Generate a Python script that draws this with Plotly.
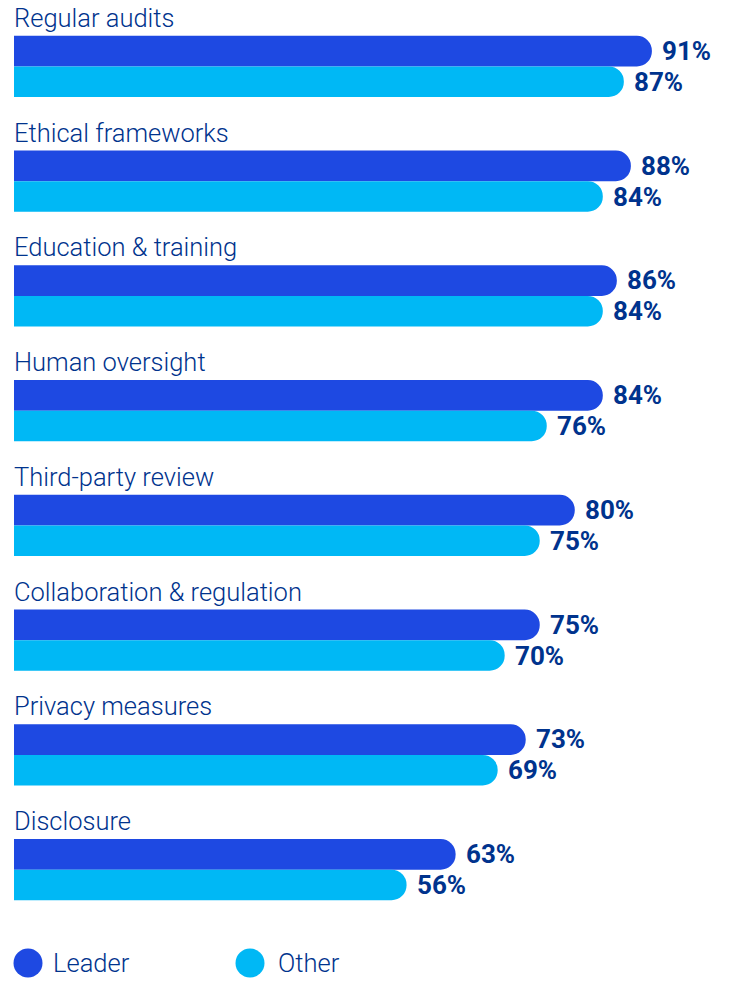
import plotly.graph_objects as go

categories = ["Regular audits", "Ethical frameworks", "Education & training", "Human oversight",
              "Third-party review", "Collaboration & regulation", "Privacy measures", "Disclosure"]
leader = [91, 88, 86, 84, 80, 75, 73, 63]
other = [87, 84, 84, 76, 75, 70, 69, 56]
series_names = ["Leader", "Other"]

C_LEADER = "#1E49E2"
C_OTHER = "#00B8F5"
C_TEXT = "#00338D"
FONT = "Roboto"

fig = go.Figure()
for name, vals, col in [(series_names[0], leader, C_LEADER), (series_names[1], other, C_OTHER)]:
    fig.add_trace(go.Bar(
        y=categories, x=vals, orientation="h", name=name,
        marker=dict(color=col, line=dict(width=0), cornerradius=15),
        showlegend=False, hoverinfo="x+y",
    ))

annotations = []
for c in categories:
    annotations.append(dict(x=0, y=c, xref="x", yref="y", text=c, showarrow=False,
                            xanchor="left", yanchor="middle", yshift=48.5, xshift=-2,
                            font=dict(family=FONT, size=25.5, color=C_TEXT, weight=300)))
for vals, shift in [(leader, 15.5), (other, -15.5)]:
    for c, v in zip(categories, vals):
        annotations.append(dict(x=v, y=c, xref="x", yref="y", text=f"{v}%", showarrow=False,
                                xanchor="left", yanchor="middle", yshift=shift, xshift=8,
                                font=dict(family=FONT, size=26, color=C_TEXT, weight=700)))

# plot area geometry
M_T, M_B = 9, 54
PLOT_W, PLOT_H = 715.0, 981.0 - M_T - M_B
plot_bottom = 981 - M_B
leg_y = (plot_bottom - 963) / PLOT_H
shapes = []
for (name, col), (cx, tx) in zip([(series_names[0], C_LEADER), (series_names[1], C_OTHER)],
                                 [(28, 51), (250, 276)]):
    shapes.append(dict(type="circle", xref="paper", yref="paper", xsizemode="pixel", ysizemode="pixel",
                       xanchor=(cx - 14) / PLOT_W, yanchor=leg_y,
                       x0=-14.5, x1=14.5, y0=-14.5, y1=14.5,
                       fillcolor=col, line=dict(width=0)))
    annotations.append(dict(x=(tx - 14) / PLOT_W, y=leg_y, xref="paper", yref="paper",
                            text=name, showarrow=False, xanchor="left", yanchor="middle",
                            font=dict(family=FONT, size=25.5, color=C_TEXT, weight=300)))

fig.update_layout(
    width=729, height=981,
    margin=dict(l=14, r=0, t=M_T, b=M_B),
    plot_bgcolor="white", paper_bgcolor="white",
    barmode="group", bargap=0.468, bargroupgap=0,
    xaxis=dict(range=[0, 102], visible=False, fixedrange=True),
    yaxis=dict(range=[len(categories) - 0.5, -0.5], visible=False, fixedrange=True),
    annotations=annotations, shapes=shapes,
    showlegend=False,
)
fig.update_traces(cliponaxis=False)
fig.write_html("out.html", config={"displayModeBar": False},
               post_script="document.body.style.margin='0';document.body.style.overflow='hidden';")
